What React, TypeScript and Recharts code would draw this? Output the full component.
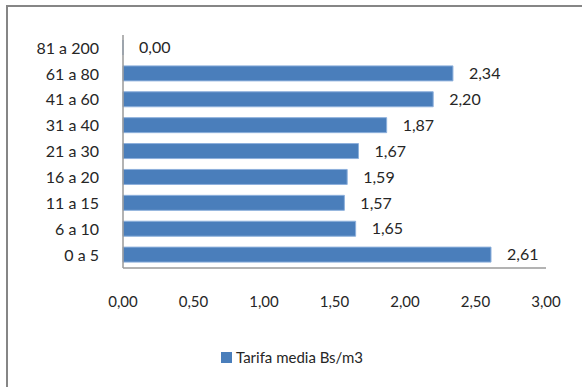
import { BarChart, Bar, XAxis, YAxis, LabelList } from "recharts";

// consumption brackets (m3), listed from the lowest bracket up
const ranges = [
  "0 a 5",
  "6 a 10",
  "11 a 15",
  "16 a 20",
  "21 a 30",
  "31 a 40",
  "41 a 60",
  "61 a 80",
  "81 a 200",
];
const tarifaMedia = [2.61, 1.65, 1.57, 1.59, 1.67, 1.87, 2.2, 2.34, 0.0];
const xTicks = [0, 0.5, 1, 1.5, 2, 2.5, 3];

const seriesName = "Tarifa media Bs/m3";
const barColor = "#4A7EBB";
const font = "Lato, Carlito, 'Open Sans', sans-serif";

const data = ranges.map((r, i) => ({ rango: r, tarifa: tarifaMedia[i] }));

const fmt = (v: number) => v.toFixed(2).replace(".", ",");

export default function App() {
  return (
    <div
      style={{
        position: "absolute",
        left: 0,
        top: 0,
        width: 582,
        height: 387,
        background: "#fff",
        overflow: "hidden",
        fontFamily: font,
      }}
    >
      {/* chart frame, only the top and left edges fall inside the view */}
      <div
        style={{
          position: "absolute",
          left: 6,
          top: 5,
          width: 640,
          height: 440,
          borderLeft: "2px solid #868686",
          borderTop: "2px solid #868686",
        }}
      />
      <BarChart
        width={582}
        height={387}
        data={data}
        layout="vertical"
        margin={{ top: 35, right: 36, bottom: 79, left: 0 }}
        style={{ position: "absolute", left: 0, top: 0 }}
      >
        <XAxis
          type="number"
          domain={[0, 3]}
          ticks={xTicks}
          tickFormatter={fmt}
          axisLine={{ stroke: "#9A9A9A", strokeWidth: 1.5 }}
          tickLine={false}
          tickSize={0}
          tickMargin={28}
          height={40}
          tick={{ fill: "#262626", fontSize: 15, fontFamily: font }}
        />
        <YAxis
          type="category"
          dataKey="rango"
          reversed
          width={123}
          axisLine={{ stroke: "#9A9A9A", strokeWidth: 1.5 }}
          tickLine={false}
          tickSize={0}
          tickMargin={24}
          interval={0}
          tick={{ fill: "#262626", fontSize: 16, fontFamily: font }}
        />
        <Bar
          dataKey="tarifa"
          name={seriesName}
          fill={barColor}
          stroke="#8DB0DC"
          strokeWidth={1}
          barSize={15}
          // keep the empty bracket in the bar list so its "0,00" label is still drawn
          minPointSize={(v: number) => (v === 0 ? 0.01 : 0)}
          isAnimationActive={false}
        >
          <LabelList
            dataKey="tarifa"
            position="right"
            offset={16}
            formatter={(v: any) => fmt(Number(v))}
            style={{ fill: "#262626", fontSize: 16, fontFamily: font }}
          />
        </Bar>
      </BarChart>
      <div
        style={{
          position: "absolute",
          left: 221,
          top: 348,
          display: "flex",
          alignItems: "center",
          fontSize: 15,
          color: "#262626",
          whiteSpace: "nowrap",
        }}
      >
        <span
          style={{
            display: "inline-block",
            width: 11,
            height: 11,
            background: barColor,
            marginRight: 4,
          }}
        />
        <span>{seriesName}</span>
      </div>
    </div>
  );
}
